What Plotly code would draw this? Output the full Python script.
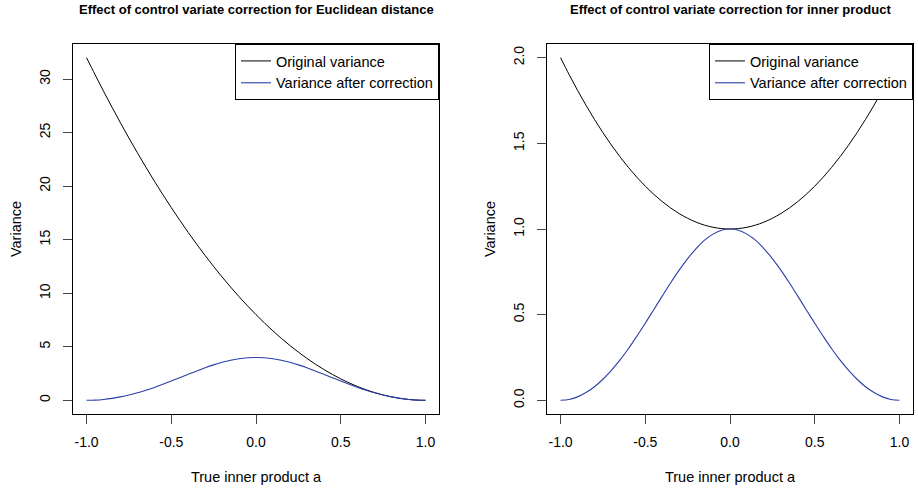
import plotly.graph_objects as go

# True inner product a
a = [-1.0, -0.95, -0.9, -0.85, -0.8, -0.75, -0.7, -0.65, -0.6, -0.55, -0.5,
     -0.45, -0.4, -0.35, -0.3, -0.25, -0.2, -0.15, -0.1, -0.05, 0.0,
     0.05, 0.1, 0.15, 0.2, 0.25, 0.3, 0.35, 0.4, 0.45, 0.5,
     0.55, 0.6, 0.65, 0.7, 0.75, 0.8, 0.85, 0.9, 0.95, 1.0]

# Left panel: Euclidean distance
euc_original = [32, 30.42, 28.88, 27.38, 25.92, 24.5, 23.12, 21.78, 20.48, 19.22,
                18, 16.82, 15.68, 14.58, 13.52, 12.5, 11.52, 10.58, 9.68, 8.82,
                8, 7.22, 6.48, 5.78, 5.12, 4.5, 3.92, 3.38, 2.88, 2.42,
                2, 1.62, 1.28, 0.98, 0.72, 0.5, 0.32, 0.18, 0.08, 0.02, 0]
euc_corrected = [0, 0.020, 0.080, 0.179, 0.316, 0.490, 0.698, 0.938, 1.205, 1.494,
                 1.800, 2.116, 2.433, 2.744, 3.039, 3.309, 3.545, 3.738, 3.882, 3.970,
                 4.000, 3.970, 3.882, 3.738, 3.545, 3.309, 3.039, 2.744, 2.433, 2.116,
                 1.800, 1.494, 1.205, 0.938, 0.698, 0.490, 0.316, 0.179, 0.080, 0.020, 0]

# Right panel: inner product
ip_original = [2.0, 1.9025, 1.81, 1.7225, 1.64, 1.5625, 1.49, 1.4225, 1.36, 1.3025,
               1.25, 1.2025, 1.16, 1.1225, 1.09, 1.0625, 1.04, 1.0225, 1.01, 1.0025,
               1.0, 1.0025, 1.01, 1.0225, 1.04, 1.0625, 1.09, 1.1225, 1.16, 1.2025,
               1.25, 1.3025, 1.36, 1.4225, 1.49, 1.5625, 1.64, 1.7225, 1.81, 1.9025, 2.0]
ip_corrected = [0, 0.005, 0.020, 0.045, 0.079, 0.123, 0.175, 0.234, 0.301, 0.374,
                0.450, 0.529, 0.608, 0.686, 0.760, 0.827, 0.886, 0.935, 0.970, 0.993,
                1.000, 0.993, 0.970, 0.935, 0.886, 0.827, 0.760, 0.686, 0.608, 0.529,
                0.450, 0.374, 0.301, 0.234, 0.175, 0.123, 0.079, 0.045, 0.020, 0.005, 0]

x_ticks = [-1.0, -0.5, 0.0, 0.5, 1.0]
x_ticklabels = ["-1.0", "-0.5", "0.0", "0.5", "1.0"]
y1_ticks = [0, 5, 10, 15, 20, 25, 30]
y1_ticklabels = ["0", "5", "10", "15", "20", "25", "30"]
y2_ticks = [0.0, 0.5, 1.0, 1.5, 2.0]
y2_ticklabels = ["0.0", "0.5", "1.0", "1.5", "2.0"]

names = ["Original variance", "Variance after correction"]
titles = ["Effect of control variate correction for Euclidean distance",
          "Effect of control variate correction for inner product"]
x_title = "True inner product a"
y_title = "Variance"

BLACK = "#000000"
BLUE = "#2B3FA8"
FONT = "Liberation Sans, Arial, Helvetica, sans-serif"
W, H = 918, 488

fig = go.Figure()
fig.add_trace(go.Scatter(x=a, y=euc_original, mode="lines", name=names[0],
                         line=dict(color=BLACK, width=1, shape="spline"),
                         xaxis="x", yaxis="y", legend="legend"))
fig.add_trace(go.Scatter(x=a, y=euc_corrected, mode="lines", name=names[1],
                         line=dict(color=BLUE, width=1.1, shape="spline"),
                         xaxis="x", yaxis="y", legend="legend"))
fig.add_trace(go.Scatter(x=a, y=ip_original, mode="lines", name=names[0],
                         line=dict(color=BLACK, width=1, shape="spline"),
                         xaxis="x2", yaxis="y2", legend="legend2"))
fig.add_trace(go.Scatter(x=a, y=ip_corrected, mode="lines", name=names[1],
                         line=dict(color=BLUE, width=1.1, shape="spline"),
                         xaxis="x2", yaxis="y2", legend="legend2"))

left_box = (73, 439)
right_box = (547, 913)
top_px, bottom_px = 44, 414
ydom = [(H - bottom_px) / H, (H - top_px) / H]

axis_common = dict(showline=True, linecolor=BLACK, linewidth=1, mirror=True,
                   ticks="outside", ticklen=9, tickwidth=1, tickcolor="#444444",
                   showgrid=False, zeroline=False,
                   tickfont=dict(family=FONT, size=14, color=BLACK))

xaxis_extra = dict(tickvals=x_ticks, ticktext=x_ticklabels, range=[-1.08, 1.08],
                   ticklabelstandoff=6,
                   title=dict(text=x_title, font=dict(size=14.5), standoff=23))

fig.update_layout(
    width=W, height=H,
    margin=dict(l=0, r=0, t=0, b=0),
    paper_bgcolor="white", plot_bgcolor="white",
    font=dict(family=FONT, size=14, color=BLACK),
    xaxis=dict(domain=[left_box[0] / W, left_box[1] / W], anchor="y",
               **xaxis_extra, **axis_common),
    yaxis=dict(domain=ydom, range=[-1.28, 33.28], anchor="x",
               tickvals=y1_ticks, ticktext=y1_ticklabels, tickangle=-90,
               ticklabelstandoff=7,
               title=dict(text=y_title, font=dict(size=14.5), standoff=12), **axis_common),
    xaxis2=dict(domain=[right_box[0] / W, right_box[1] / W], anchor="y2",
                **xaxis_extra, **axis_common),
    yaxis2=dict(domain=ydom, range=[-0.08, 2.08], anchor="x2",
                tickvals=y2_ticks, ticktext=y2_ticklabels, tickangle=-90,
                ticklabelstandoff=7,
                title=dict(text=y_title, font=dict(size=14.5), standoff=12), **axis_common),
    legend=dict(x=left_box[1] / W, xanchor="right", y=ydom[1], yanchor="top",
                bgcolor="white", bordercolor=BLACK, borderwidth=1,
                font=dict(family=FONT, size=14.5, color=BLACK)),
    legend2=dict(x=right_box[1] / W, xanchor="right", y=ydom[1], yanchor="top",
                 bgcolor="white", bordercolor=BLACK, borderwidth=1,
                 font=dict(family=FONT, size=14.5, color=BLACK)),
    showlegend=True,
)

for box, t in zip([left_box, right_box], titles):
    fig.add_annotation(text="<b>" + t + "</b>", xref="paper", yref="paper",
                       x=(box[0] + box[1]) / 2 / W, y=(H - 9.5) / H,
                       xanchor="center", yanchor="middle", showarrow=False,
                       font=dict(family=FONT, size=13, color=BLACK))

fig.write_html("out.html")
